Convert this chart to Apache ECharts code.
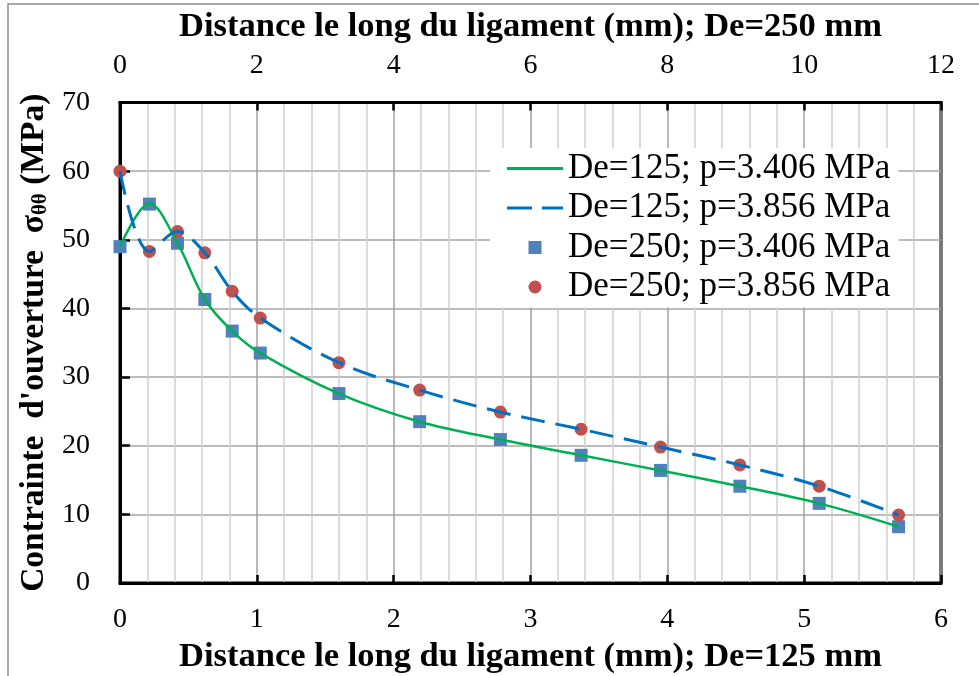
<!DOCTYPE html>
<html>
<head>
<meta charset="utf-8">
<script src="https://cdn.jsdelivr.net/npm/echarts@6/dist/echarts.min.js"></script>
<style>
html,body{margin:0;padding:0;background:#fff;}
#chart{width:979px;height:676px;}
</style>
</head>
<body>
<div id="chart"></div>
<script>
// ---- data ----
var seriesNames = ['De=125; p=3.406 MPa', 'De=125; p=3.856 MPa', 'De=250; p=3.406 MPa', 'De=250; p=3.856 MPa'];
// distance along ligament, De=125 (bottom axis, mm)
var dist125 = [0, 0.215, 0.42, 0.62, 0.82, 1.025, 1.6, 2.19, 2.78, 3.37, 3.95, 4.53, 5.11, 5.69];
// distance along ligament, De=250 (top axis, mm)
var dist250 = [0, 0.43, 0.84, 1.24, 1.64, 2.05, 3.2, 4.38, 5.56, 6.74, 7.9, 9.06, 10.22, 11.38];
var sig125_3406 = [49, 55.3, 49.5, 41.3, 36.7, 33.5, 27.6, 23.5, 20.9, 18.6, 16.4, 14.1, 11.6, 8.2];
var sig125_3856 = [60, 48.3, 51.2, 48.1, 42.5, 38.6, 32.1, 28.1, 24.9, 22.4, 19.8, 17.2, 14.1, 9.9];
var sig250_3406 = [49, 55.2, 49.5, 41.3, 36.7, 33.5, 27.6, 23.5, 20.9, 18.6, 16.4, 14.1, 11.6, 8.2];
var sig250_3856 = [60, 48.3, 51.2, 48.1, 42.5, 38.6, 32.1, 28.1, 24.9, 22.4, 19.8, 17.2, 14.1, 9.9];
var bottomTitle = 'Distance le long du ligament (mm); De=125 mm';
var topTitle = 'Distance le long du ligament (mm); De=250 mm';
var yTitle = "Contrainte  d'ouverture  σ{sub|θθ} (MPa)";

function pairs(xs, ys){ return xs.map(function(x,i){ return [x, ys[i]]; }); }

var FONT = "'Liberation Serif', 'Times New Roman', serif";
var chart = echarts.init(document.getElementById('chart'), null, {renderer:'canvas'});

var labelStyle = {color:'#000', fontFamily:FONT, fontSize:28};
var nameStyle = {color:'#000', fontFamily:FONT, fontSize:34.5, fontWeight:'bold'};

chart.setOption({
  animation:false,
  backgroundColor:'#fff',
  graphic:[{type:'rect', shape:{x:8, y:4, width:1100, height:800}, style:{fill:'none', stroke:'#8c8c8c', lineWidth:1.5}, silent:true}],
  grid:{left:120, right:38, top:102.5, bottom:93, containLabel:false, outerBoundsMode:'none',
        show:true, borderColor:'#000', borderWidth:3, backgroundColor:'transparent'},
  legend:{
    orient:'vertical', left:490, top:148,
    padding:[3,8,3,17], itemGap:4.5,
    backgroundColor:'#fff',
    itemWidth:56, itemHeight:13,
    textStyle:{color:'#000', fontFamily:FONT, fontSize:35},
    data:[
      {name:seriesNames[0], icon:'path://M0,0H56V3H0Z'},
      {name:seriesNames[1], icon:'path://M0,0H25V3H0ZM35,0H56V3H35Z'},
      {name:seriesNames[2], icon:'path://M0,0H12V12H0Z'},
      {name:seriesNames[3], icon:'circle'}
    ]
  },
  xAxis:[{
    type:'value', position:'bottom', min:0, max:6, interval:1,
    axisLine:{show:true, onZero:false, lineStyle:{color:'#000', width:3}},
    axisTick:{show:true, inside:true, length:8, lineStyle:{color:'#000', width:2.5}},
    axisLabel:Object.assign({margin:23}, labelStyle),
    splitLine:{show:true, lineStyle:{color:'#a0a0a0', width:1.5}},
    minorTick:{show:false, splitNumber:5},
    minorSplitLine:{show:true, lineStyle:{color:'#d0d0d0', width:1.5}},
    name:bottomTitle, nameLocation:'middle', nameGap:57, nameTextStyle:nameStyle
  },{
    type:'value', position:'top', min:0, max:12, interval:2,
    axisLine:{show:true, onZero:false, lineStyle:{color:'#000', width:3}},
    axisTick:{show:true, inside:true, length:8, lineStyle:{color:'#000', width:2.5}},
    axisLabel:Object.assign({margin:23}, labelStyle),
    splitLine:{show:false},
    name:topTitle, nameLocation:'middle', nameGap:58, nameTextStyle:nameStyle
  }],
  yAxis:{
    type:'value', min:0, max:70, interval:10,
    axisLine:{show:true, onZero:false, lineStyle:{color:'#000', width:3}},
    axisTick:{show:true, inside:true, length:10, lineStyle:{color:'#000', width:2.5}},
    axisLabel:Object.assign({margin:30}, labelStyle),
    splitLine:{show:true, lineStyle:{color:'#a6a6a6', width:1.5}},
    name:yTitle, nameLocation:'middle', nameGap:68, nameRotate:90,
    nameTextStyle:Object.assign({}, nameStyle, {fontSize:33.5, rich:{
      sub:{fontFamily:FONT, fontSize:21, fontWeight:'bold', color:'#000', verticalAlign:'bottom'}
    }})
  },
  series:[{
    name:seriesNames[0], type:'line', xAxisIndex:0, data:pairs(dist125, sig125_3406),
    smooth:0.35, symbol:'none', lineStyle:{color:'#00b050', width:2.5}, itemStyle:{color:'#00b050'}
  },{
    name:seriesNames[1], type:'line', xAxisIndex:0, data:pairs(dist125, sig125_3856),
    smooth:0.35, symbol:'none', lineStyle:{color:'#0070c0', width:3, type:[24,11]}, itemStyle:{color:'#0070c0'}
  },{
    name:seriesNames[2], type:'scatter', xAxisIndex:1, data:pairs(dist250, sig250_3406),
    symbol:'rect', symbolSize:13, itemStyle:{color:'#4f81bd', opacity:1}
  },{
    name:seriesNames[3], type:'scatter', xAxisIndex:1, data:pairs(dist250, sig250_3856),
    symbol:'circle', symbolSize:13, itemStyle:{color:'#c0504d', opacity:1}
  }]
});
</script>
</body>
</html>
